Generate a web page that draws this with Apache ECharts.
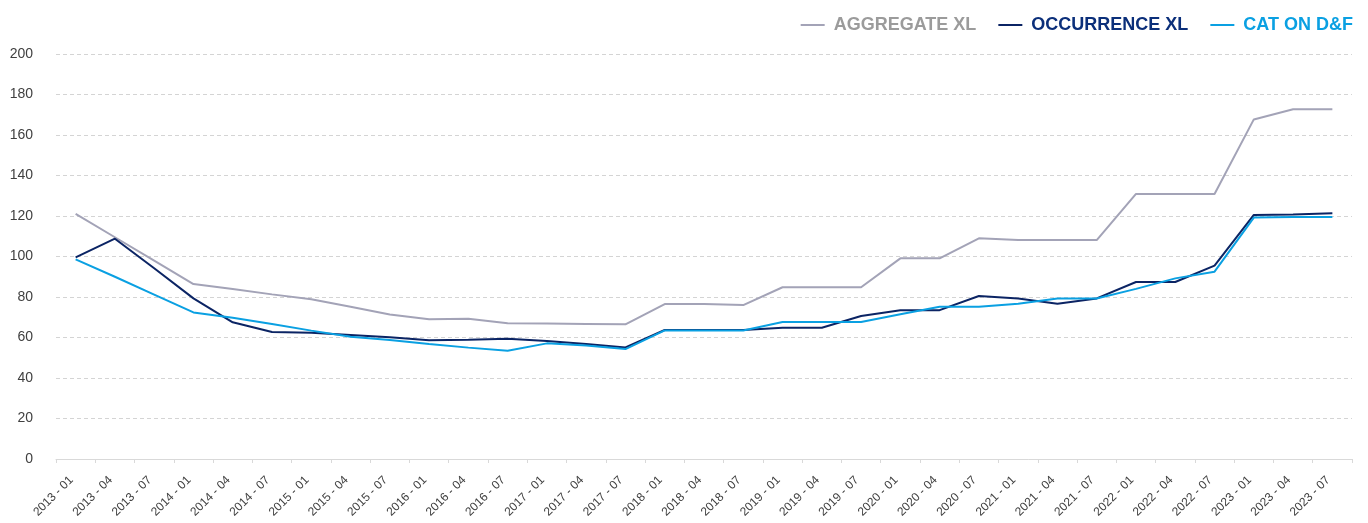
<!DOCTYPE html>
<html>
<head>
<meta charset="utf-8">
<script src="https://cdn.jsdelivr.net/npm/echarts@6/dist/echarts.min.js"></script>
<style>
html,body{margin:0;padding:0;background:#fff;}
#chart{width:1368px;height:523px;}
</style>
</head>
<body>
<div id="chart"></div>
<script>
var categories = ['2013 - 01','2013 - 04','2013 - 07','2014 - 01','2014 - 04','2014 - 07','2015 - 01','2015 - 04','2015 - 07','2016 - 01','2016 - 04','2016 - 07','2017 - 01','2017 - 04','2017 - 07','2018 - 01','2018 - 04','2018 - 07','2019 - 01','2019 - 04','2019 - 07','2020 - 01','2020 - 04','2020 - 07','2021 - 01','2021 - 04','2021 - 07','2022 - 01','2022 - 04','2022 - 07','2023 - 01','2023 - 04','2023 - 07'];
var aggregateXL = [121, 109.5, 98, 86.4, 84, 81.3, 78.9, 75.2, 71.4, 69, 69.3, 67, 66.9, 66.7, 66.5, 76.5, 76.5, 76, 84.8, 84.8, 84.8, 99.1, 99.1, 109, 108.1, 108.1, 108.1, 130.9, 130.9, 130.9, 167.7, 172.7, 172.7];
var occurrenceXL = [99.6, 108.8, 94.2, 79.3, 67.5, 62.7, 62.3, 61.2, 60.1, 58.6, 58.9, 59.4, 58.3, 56.8, 55.1, 63.7, 63.7, 63.7, 64.8, 64.8, 70.6, 73.5, 73.5, 80.5, 79.3, 76.7, 79.3, 87.4, 87.4, 95.5, 120.5, 120.7, 121.3];
var catOnDF = [98.6, 90, 81.2, 72.4, 69.8, 66.7, 63.4, 60.4, 58.8, 56.8, 55, 53.5, 57.1, 56.1, 54.3, 63.5, 63.5, 63.5, 67.7, 67.7, 67.7, 71.5, 75.2, 75.2, 76.7, 79.3, 79.3, 84, 89.2, 92.5, 119.2, 119.5, 119.5];
var seriesNames = ['AGGREGATE XL', 'OCCURRENCE XL', 'CAT ON D&F'];
var yTicks = {min: 0, max: 200, interval: 20};

var lineColors = ['#a3a3b7', '#0b2464', '#0aa0e2'];
var textColors = ['#9b9b9b', '#0b2f7a', '#0aa0e2'];
var font = '"Liberation Sans", Arial, sans-serif';

var chart = echarts.init(document.getElementById('chart'), null, {renderer: 'canvas'});
var values = [aggregateXL, occurrenceXL, catOnDF];
chart.setOption({
  animation: false,
  backgroundColor: '#ffffff',
  textStyle: {fontFamily: font},
  legend: {
    right: 10,
    top: 11,
    icon: 'rect',
    itemWidth: 24,
    itemHeight: 2,
    itemGap: 22,
    data: seriesNames.map(function (n, i) {
      return {name: n, textStyle: {color: textColors[i]}};
    }),
    textStyle: {fontFamily: font, fontSize: 18, fontWeight: 'bold', padding: [0, 0, 0, 4]}
  },
  grid: {left: 56, right: 16, top: 54, bottom: 64, containLabel: false},
  xAxis: {
    type: 'category',
    data: categories,
    boundaryGap: true,
    axisLine: {lineStyle: {color: '#d9d9d9', width: 1}},
    axisTick: {show: true, length: 4, lineStyle: {color: '#d9d9d9'}},
    axisLabel: {rotate: 45, fontSize: 12, color: '#404040', fontFamily: font, margin: 15, padding: [0, 6, 0, 0], interval: 0}
  },
  yAxis: {
    type: 'value',
    min: yTicks.min,
    max: yTicks.max,
    interval: yTicks.interval,
    axisLine: {show: false},
    axisTick: {show: false},
    axisLabel: {fontSize: 14, color: '#404040', fontFamily: font, margin: 23},
    splitLine: {lineStyle: {color: '#d4d4d4', type: [4, 3], width: 1}}
  },
  series: seriesNames.map(function (n, i) {
    return {
      name: n,
      type: 'line',
      data: values[i],
      showSymbol: false,
      symbol: 'none',
      lineStyle: {color: lineColors[i], width: 2},
      itemStyle: {color: lineColors[i]}
    };
  })
});
</script>
</body>
</html>
